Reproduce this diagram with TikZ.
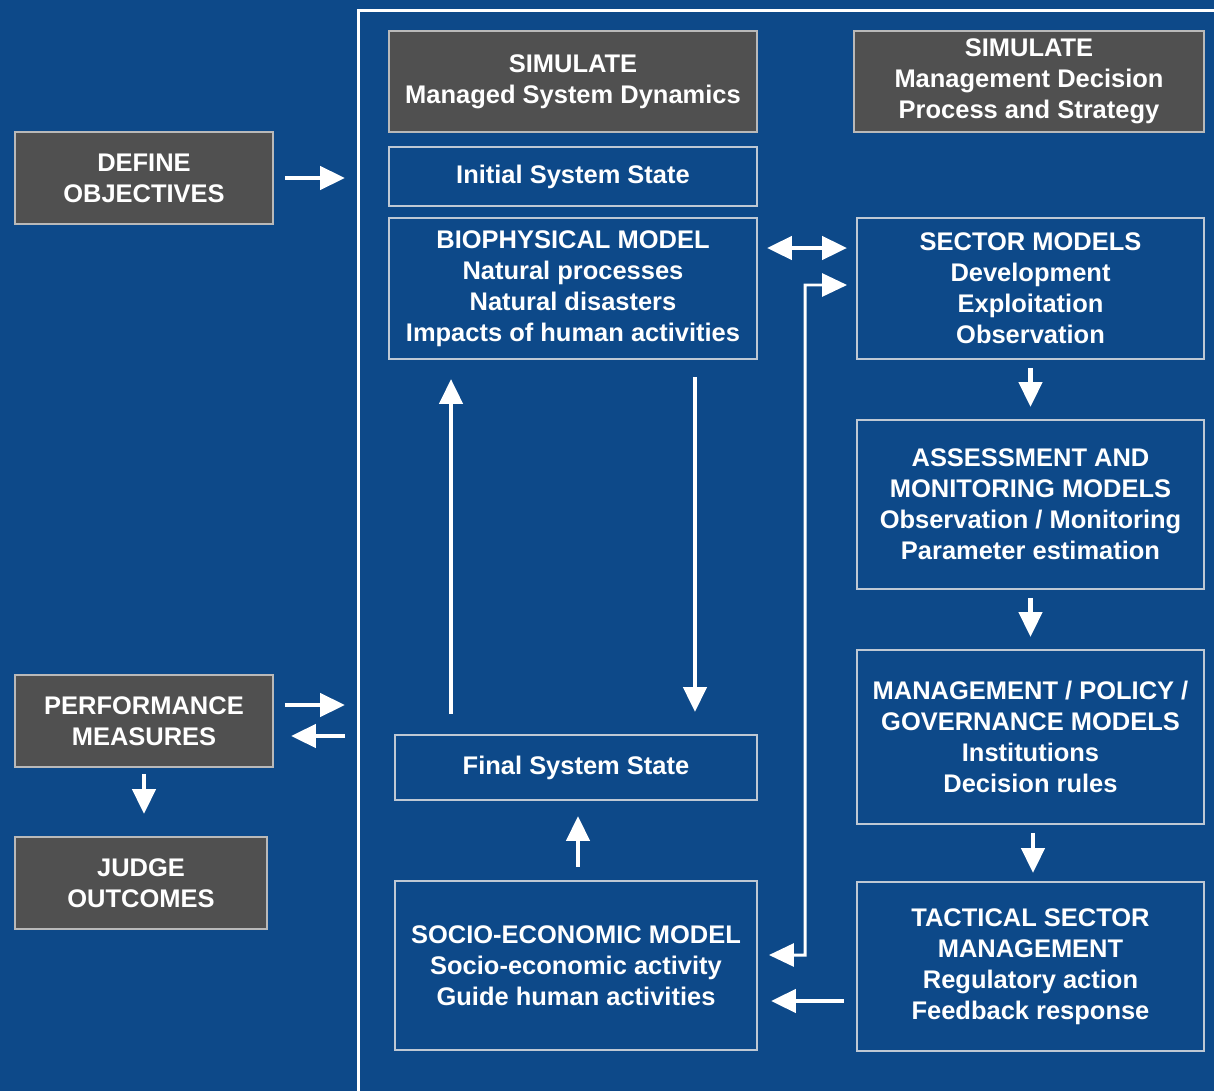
\documentclass[tikz,border=0pt]{standalone}
\usepackage{fontspec}
\setmainfont{Liberation Sans}
\usetikzlibrary{arrows.meta}
\definecolor{bgblue}{RGB}{13,73,137}
\definecolor{boxgray}{RGB}{80,80,80}
\definecolor{edgegray}{RGB}{185,185,185}
\definecolor{edgeblue}{RGB}{190,200,212}
\begin{document}
\begin{tikzpicture}[x=0.02cm,y=-0.02cm,
  txt/.style={text=white, align=center, inner sep=0pt,
    font=\bfseries\fontsize{14.5}{17.6}\selectfont},
  graybox/.style={txt, draw=edgegray, fill=boxgray, line width=0.04cm},
  bluebox/.style={txt, draw=edgeblue, line width=0.04cm},
  arr/.style={draw=white, line width=0.09cm, -{Triangle[length=0.5cm,width=0.46cm]}},
  darr/.style={draw=white, line width=0.09cm, {Triangle[length=0.5cm,width=0.46cm]}-{Triangle[length=0.5cm,width=0.46cm]}},
  elbow/.style={draw=white, line width=0.06cm, {Triangle[length=0.5cm,width=0.46cm]}-{Triangle[length=0.5cm,width=0.46cm]}}
]
\useasboundingbox (0,0) rectangle (1214,1091);
\fill[bgblue] (0,0) rectangle (1214,1091);
\clip (0,0) rectangle (1214,1091);

% frame
\node[draw=white, line width=0.06cm, minimum width=18.86cm, minimum height=22.82cm,
  anchor=north west, inner sep=0pt] (frame) at (357,9) {};

% left column
\node[graybox, minimum width=5.16cm, minimum height=1.84cm] (def) at (144,178) {DEFINE\\OBJECTIVES};
\node[graybox, minimum width=5.16cm, minimum height=1.84cm] (perf) at (144,721) {PERFORMANCE\\MEASURES};
\node[graybox, minimum width=5.04cm, minimum height=1.84cm] (judge) at (141,883) {JUDGE\\OUTCOMES};

% middle column
\node[graybox, minimum width=7.36cm, minimum height=2.02cm] (sim1) at (573,81.5) {SIMULATE\\Managed System Dynamics};
\node[bluebox, minimum width=7.36cm, minimum height=1.18cm] (init) at (573,176.5) {Initial System State};
\node[bluebox, minimum width=7.36cm, minimum height=2.82cm] (bio) at (573,288.5) {BIOPHYSICAL MODEL\\Natural processes\\Natural disasters\\Impacts of human activities};
\node[bluebox, minimum width=7.24cm, minimum height=1.30cm] (final) at (576,767.5) {Final System State};
\node[bluebox, minimum width=7.24cm, minimum height=3.38cm] (socio) at (576,965.5) {SOCIO-ECONOMIC MODEL\\Socio-economic activity\\Guide human activities};

% right column
\node[graybox, minimum width=7.00cm, minimum height=2.02cm] (sim2) at (1029,81.5) {SIMULATE\\Management Decision\\Process and Strategy};
\node[bluebox, minimum width=6.94cm, minimum height=2.82cm] (sector) at (1030.5,288.5) {SECTOR MODELS\\Development\\Exploitation\\Observation};
\node[bluebox, minimum width=6.94cm, minimum height=3.38cm] (assess) at (1030.5,504.5) {ASSESSMENT AND\\MONITORING MODELS\\Observation / Monitoring\\Parameter estimation};
\node[bluebox, minimum width=6.94cm, minimum height=3.48cm] (mgmt) at (1030.5,737) {MANAGEMENT / POLICY /\\GOVERNANCE MODELS\\Institutions\\Decision rules};
\node[bluebox, minimum width=6.94cm, minimum height=3.38cm] (tact) at (1030.5,966.5) {TACTICAL SECTOR\\MANAGEMENT\\Regulatory action\\Feedback response};

% connectors
\draw[arr, shorten <=0.22cm, shorten >=0.24cm] (def.east) -- (def.east -| frame.west);
\draw[arr, shorten <=0.22cm, shorten >=0.24cm] ([yshift=0.32cm]perf.east) -- ([yshift=0.32cm]perf.east -| frame.west);
\draw[arr, shorten <=0.24cm, shorten >=0.34cm] ([yshift=-0.30cm]perf.east -| frame.west) -- ([yshift=-0.30cm]perf.east);
\draw[arr, shorten <=0.12cm, shorten >=0.44cm] (perf.south) -- (perf.south |- judge.north);

\draw[arr, shorten <=0.40cm, shorten >=0.38cm] ([xshift=-2.44cm]bio.south |- final.north) -- ([xshift=-2.44cm]bio.south);
\draw[arr, shorten <=0.34cm, shorten >=0.44cm] ([xshift=2.44cm]bio.south) -- ([xshift=2.44cm]bio.south |- final.north);
\draw[arr, shorten <=0.26cm, shorten >=0.30cm] ([xshift=0.04cm]socio.north) -- ([xshift=0.04cm]socio.north |- final.south);

\draw[darr, shorten <=0.18cm, shorten >=0.18cm] ([yshift=0.81cm]bio.east) -- ([yshift=0.81cm]bio.east -| sector.west);
\coordinate (bend) at (805,955);
\draw[elbow, shorten <=0.22cm, shorten >=0.18cm] ([yshift=0.21cm]socio.east) -- (bend) |- ([yshift=0.07cm]sector.west);
\draw[arr, shorten <=0.24cm, shorten >=0.26cm] ([yshift=-0.69cm]tact.west) -- ([yshift=-0.69cm]tact.west -| socio.east);

\draw[arr, shorten <=0.16cm, shorten >=0.24cm] (sector.south) -- (assess.north);
\draw[arr, shorten <=0.16cm, shorten >=0.24cm] (assess.south) -- (mgmt.north);
\draw[arr, shorten <=0.16cm, shorten >=0.16cm] ([xshift=0.05cm]mgmt.south) -- ([xshift=0.05cm]tact.north);
\end{tikzpicture}
\end{document}
